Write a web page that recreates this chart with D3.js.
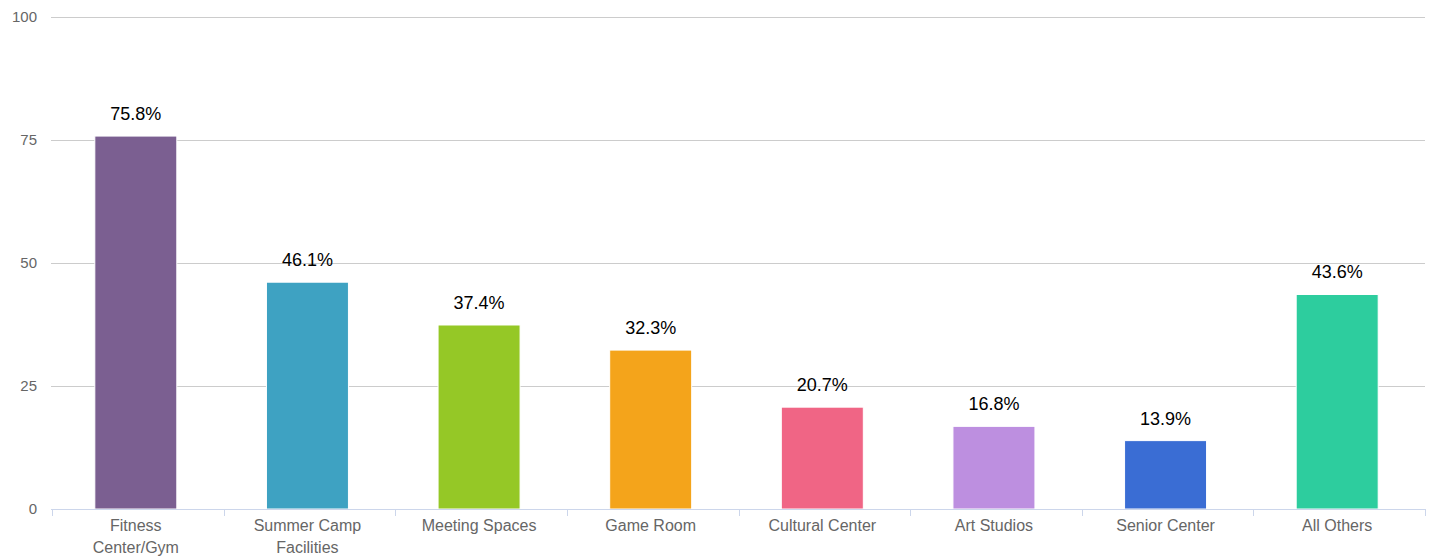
<!DOCTYPE html>
<html>
<head>
<meta charset="utf-8">
<script src="https://cdn.jsdelivr.net/npm/d3@7"></script>
<style>
  body { margin: 0; background: #fff; }
  svg text { font-family: "Liberation Sans", Helvetica, Arial, sans-serif; }
</style>
</head>
<body>
<div id="chart"></div>
<script>
var categories = ["Fitness\nCenter/Gym", "Summer Camp\nFacilities", "Meeting Spaces", "Game Room",
                  "Cultural Center", "Art Studios", "Senior Center", "All Others"];
var values = [75.8, 46.1, 37.4, 32.3, 20.7, 16.8, 13.9, 43.6];
var colors = ["#7b5f91", "#3ea2c2", "#95c826", "#f4a41b", "#f06585", "#bd8fe0", "#3a6dd4", "#2dcd9e"];
var yTicks = [0, 25, 50, 75, 100];

var width = 1433, height = 558,
    margin = {top: 17, right: 8, bottom: 49, left: 52};

var svg = d3.select("#chart").append("svg")
    .attr("width", width)
    .attr("height", height);

var band = d3.scaleBand()
    .domain(d3.range(categories.length))
    .range([margin.left, width - margin.right]);

var y = d3.scaleLinear()
    .domain([0, 100])
    .range([height - margin.bottom, margin.top]);

// bar centre, nudged left like the original
function cx(i) { return band(i) + band.bandwidth() / 2 - 2; }

// gridlines
svg.append("g").selectAll("line")
    .data(yTicks.filter(function(d) { return d > 0; }))
    .enter().append("line")
      .attr("x1", 51).attr("x2", width - margin.right)
      .attr("y1", function(d) { return Math.round(y(d)) + 0.5; })
      .attr("y2", function(d) { return Math.round(y(d)) + 0.5; })
      .attr("stroke", "#cccccc");

// y labels
svg.append("g").selectAll("text")
    .data(yTicks)
    .enter().append("text")
      .attr("x", 37)
      .attr("y", function(d) { return y(d) + 5; })
      .attr("text-anchor", "end")
      .attr("font-size", "15px")
      .attr("fill", "#666")
      .text(function(d) { return d; });

// bars
svg.append("g").selectAll("rect")
    .data(values)
    .enter().append("rect")
      .attr("x", function(d, i) { return cx(i) - 41; })
      .attr("width", 82)
      .attr("y", function(d) { return y(d); })
      .attr("height", function(d) { return y(0) - y(d); })
      .attr("fill", function(d, i) { return colors[i]; })
      .attr("stroke", "#fff")
      .attr("stroke-width", 1);

// data labels
svg.append("g").selectAll("text")
    .data(values)
    .enter().append("text")
      .attr("x", function(d, i) { return cx(i); })
      .attr("y", function(d) { return y(d) - 16; })
      .attr("text-anchor", "middle")
      .attr("font-size", "18px")
      .attr("fill", "#000")
      .text(function(d) { return d.toFixed(1) + "%"; });

// x axis line & ticks
var x0 = y(0);
svg.append("line")
    .attr("x1", 51).attr("x2", width - margin.right)
    .attr("y1", x0 + 0.5).attr("y2", x0 + 0.5)
    .attr("stroke", "#ccd6eb");
svg.append("g").selectAll("line")
    .data(d3.range(categories.length + 1))
    .enter().append("line")
      .attr("x1", function(i) { return Math.round(margin.left + i * band.step()) + 0.5; })
      .attr("x2", function(i) { return Math.round(margin.left + i * band.step()) + 0.5; })
      .attr("y1", x0).attr("y2", x0 + 7)
      .attr("stroke", "#ccd6eb");

// x labels
var xl = svg.append("g").selectAll("text")
    .data(categories)
    .enter().append("text")
      .attr("x", function(d, i) { return cx(i); })
      .attr("y", 531)
      .attr("text-anchor", "middle")
      .attr("font-size", "16px")
      .attr("fill", "#666");
xl.each(function(d) {
  var t = d3.select(this);
  d.split("\n").forEach(function(line, k) {
    t.append("tspan")
      .attr("x", t.attr("x"))
      .attr("dy", k === 0 ? 0 : 22)
      .text(line);
  });
});
</script>
</body>
</html>
